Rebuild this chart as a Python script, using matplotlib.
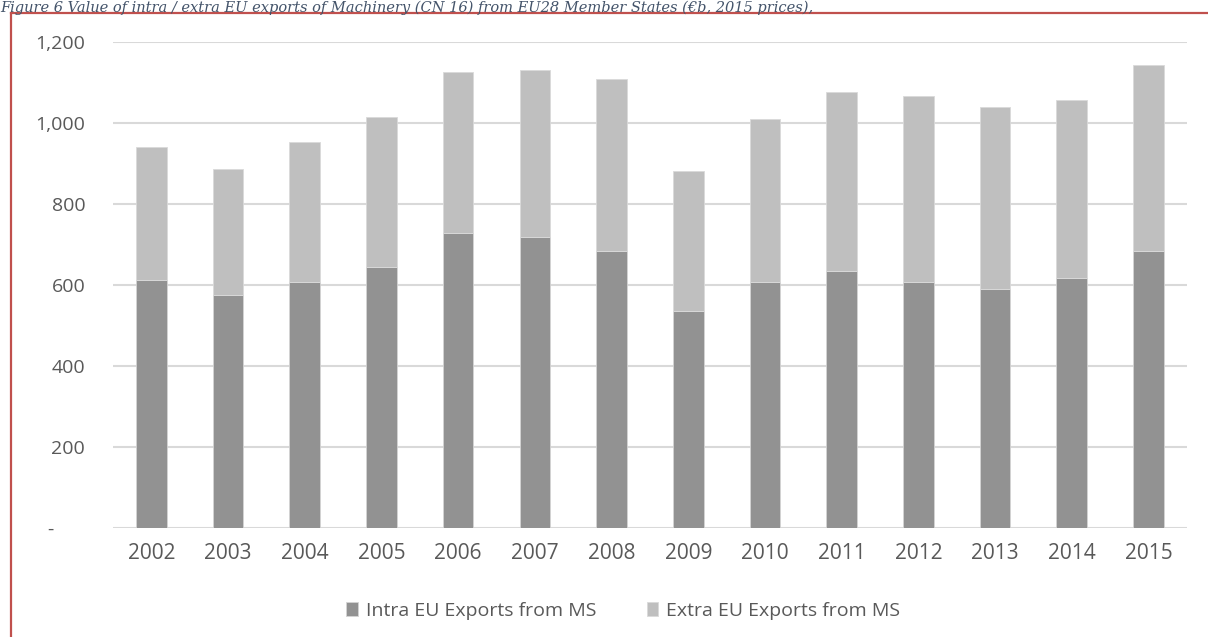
import numpy as np
import matplotlib.pyplot as plt
from matplotlib.lines import Line2D

# values (EUR bn, 2015 prices)
years = ["2002", "2003", "2004", "2005", "2006", "2007", "2008",
         "2009", "2010", "2011", "2012", "2013", "2014", "2015"]
intra = [612, 575, 608, 645, 727, 717, 684, 536, 608, 635, 608, 591, 618, 684]
total = [941, 886, 952, 1015, 1125, 1131, 1108, 881, 1010, 1076, 1065, 1038, 1055, 1143]
extra = [t - i for t, i in zip(total, intra)]
yticks = [0, 200, 400, 600, 800, 1000, 1200]
ytick_labels = ["-      ", "200", "400", "600", "800", "1,000", "1,200"]

plt.rcParams['font.family'] = ['Open Sans', 'DejaVu Sans']

fig = plt.figure(figsize=(12.08, 6.37), dpi=100)
ax = fig.add_axes([0.0935, 0.171, 0.889, 0.7635])

x = np.arange(len(years))
ax.bar(x, intra, width=0.4, color="#929292", edgecolor="#d4d4d4", linewidth=0.6,
       label="Intra EU Exports from MS", zorder=3)
ax.bar(x, extra, width=0.4, bottom=intra, color="#bfbfbf", edgecolor="#dadada",
       linewidth=0.6, label="Extra EU Exports from MS", zorder=3)

ax.set_xlim(-0.5, len(years) - 0.5)
ax.set_ylim(0, 1200)
ax.set_yticks(yticks)
ax.set_yticklabels(ytick_labels)
ax.set_xticks(x)
ax.set_xticklabels(years)
ax.grid(axis="y", color="#d9d9d9", linewidth=1.5, zorder=0)
ax.tick_params(length=0, labelsize=14, labelcolor="#595959")
ax.tick_params(axis="y", pad=20)
ax.tick_params(axis="x", pad=11)
for lab in ax.get_xticklabels():
    lab.set_fontsize(15)
for s in ax.spines.values():
    s.set_visible(False)

ax.legend(loc="upper center", bbox_to_anchor=(0.475, -0.115), ncol=2, frameon=False,
          fontsize=14, labelcolor="#595959", handlelength=0.6, handleheight=0.8,
          handletextpad=0.4, columnspacing=2.6)

# red frame of the figure box, cut at the top
fig.add_artist(Line2D([11 / 1208, 1.0], [1 - 13 / 637, 1 - 13 / 637],
                      color="#c0504d", linewidth=1.6))
fig.add_artist(Line2D([11 / 1208, 11 / 1208], [0, 1 - 13 / 637],
                      color="#c0504d", linewidth=1.6))

# caption line above the frame
fig.text(0.0, 1 - 1 / 637, "Figure 6 Value of intra / extra EU exports of Machinery (CN 16) "
         "from EU28 Member States (\u20acb, 2015 prices),",
         family="DejaVu Serif", style="italic", fontsize=10.5, color="#44546a",
         ha="left", va="top")

fig.savefig("out.png", dpi=100)
